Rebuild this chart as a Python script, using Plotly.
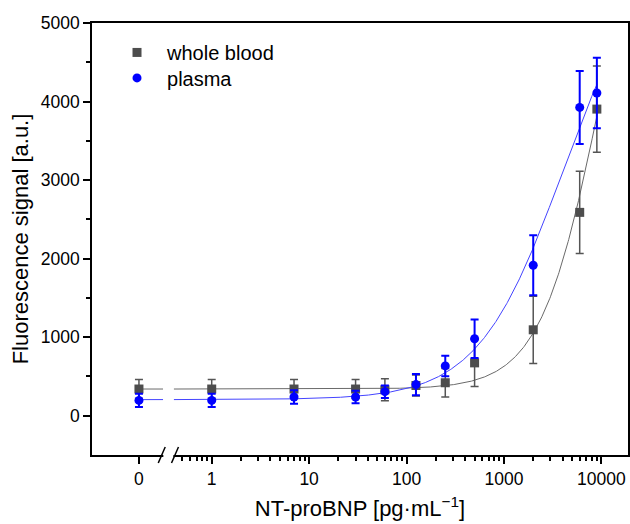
import numpy as np
import plotly.graph_objects as go

# ---- data ----
conc = [0, 1, 7, 30, 60, 125, 250, 500, 2000, 6000, 9000]
wb_mean = [340, 340, 340, 340, 330, 385, 420, 673, 1094, 2589, 3904]
wb_err = [120, 120, 120, 120, 140, 135, 180, 300, 428, 525, 550]
pl_mean = [195, 195, 238, 238, 306, 396, 634, 980, 1916, 3925, 4109]
pl_err = [85, 85, 85, 80, 80, 135, 130, 245, 383, 465, 450]

# 4PL fit parameters (bottom, top, EC50, hill)
wb_fit = dict(bottom=340, top=7840, c=10000, b=1.4)
pl_fit = dict(bottom=205, top=6000, c=4000, b=1.0)

x_tick_labels = ["0", "1", "10", "100", "1000", "10000"]
x_tick_vals = [None, 1, 10, 100, 1000, 10000]
y_tick_vals = [0, 1000, 2000, 3000, 4000, 5000]
y_minor_vals = [500, 1500, 2500, 3500, 4500]

# ---- axis geometry ----
ZERO_LOG = -0.747           # display position of concentration 0 (log10)
XRANGE = [-1.229, 4.274]
BREAK_LO, BREAK_HI = -0.513, -0.377   # axis break slashes (log10 units)
ZERO_POS = 10 ** ZERO_LOG

def to_plot(c):
    return [ZERO_POS if v == 0 else v for v in c]

def fpl(x, p):
    x = np.asarray(x, dtype=float)
    r = (x / p["c"]) ** p["b"]
    return p["bottom"] + (p["top"] - p["bottom"]) * r / (1 + r)

def curve(p):
    lx = np.linspace(ZERO_LOG, np.log10(9000), 800)
    xs, ys = [], []
    for l in lx:
        if BREAK_LO + 0.015 < l < BREAK_HI - 0.015:
            if xs and xs[-1] is not None:
                xs.append(None); ys.append(None)
            continue
        xv = 10 ** l
        xs.append(xv)
        ys.append(float(fpl(0 if l < BREAK_LO else xv, p)))
    return xs, ys

GRAY = "#4d4d4d"
BLUE = "#0000ff"

fig = go.Figure()
cx, cy = curve(wb_fit)
fig.add_trace(go.Scatter(x=cx, y=cy, mode="lines", line=dict(color="#6a6a6a", width=1),
                         showlegend=False, hoverinfo="skip"))
cx, cy = curve(pl_fit)
fig.add_trace(go.Scatter(x=cx, y=cy, mode="lines", line=dict(color="#4444ff", width=1),
                         showlegend=False, hoverinfo="skip"))
fig.add_trace(go.Scatter(
    x=to_plot(conc), y=wb_mean, mode="markers", name="whole blood", legend="legend",
    marker=dict(symbol="square", size=9, color=GRAY),
    error_y=dict(type="data", array=wb_err, color="#555555", thickness=1.5, width=4)))
fig.add_trace(go.Scatter(
    x=to_plot(conc), y=pl_mean, mode="markers", name="plasma", legend="legend2",
    marker=dict(symbol="circle", size=9, color=BLUE),
    error_y=dict(type="data", array=pl_err, color=BLUE, thickness=2, width=4)))

minor_vals = []
for m in range(5, 10):
    minor_vals.append(m / 10)
for dec in [1, 10, 100, 1000]:
    for m in range(2, 10):
        minor_vals.append(m * dec)

tv = [ZERO_POS if v is None else v for v in x_tick_vals]
FONT = "Arial, Liberation Sans, sans-serif"
leg_common = dict(x=0.028, xanchor="left", yanchor="top",
                  bgcolor="rgba(0,0,0,0)", font=dict(size=20, family=FONT),
                  itemwidth=50)

fig.update_layout(
    width=630, height=524,
    margin=dict(l=92, r=2, t=23, b=69),
    paper_bgcolor="white", plot_bgcolor="white",
    font=dict(family=FONT, color="black", size=17),
    showlegend=True,
    legend=dict(y=0.977, **leg_common),
    legend2=dict(y=0.918, **leg_common),
    xaxis=dict(type="log", range=XRANGE, showgrid=False, zeroline=False,
               automargin=False,
               showline=True, linecolor="black", linewidth=1.5, mirror=True,
               ticks="outside", ticklen=7, tickwidth=1.5, tickcolor="black",
               tickvals=tv, ticktext=x_tick_labels,
               tickfont=dict(size=17.5),
               minor=dict(tickvals=minor_vals, ticks="outside", ticklen=4,
                          tickwidth=1.5, tickcolor="black"),
               title=dict(text="NT-proBNP [pg·mL<sup>−1</sup>]",
                          font=dict(size=22), standoff=13)),
    yaxis=dict(range=[-500, 5000], showgrid=False, zeroline=False,
               automargin=False,
               showline=True, linecolor="black", linewidth=1.5, mirror=True,
               ticks="outside", ticklen=7, tickwidth=1.5, tickcolor="black",
               tickvals=y_tick_vals, tickfont=dict(size=17.5),
               minor=dict(tickvals=y_minor_vals, ticks="outside", ticklen=4,
                          tickwidth=1.5, tickcolor="black"),
               title=dict(text="Fluorescence signal [a.u.]",
                          font=dict(size=22), standoff=6)),
)

# axis break marks "//"
def px(l):
    return (l - XRANGE[0]) / (XRANGE[1] - XRANGE[0])

b0, b1 = px(BREAK_LO), px(BREAK_HI)
fig.add_shape(type="rect", xref="paper", yref="paper", x0=b0 + 0.003, x1=b1 - 0.003,
              y0=-0.008, y1=0.008, fillcolor="white", line=dict(width=0), layer="above")
for xb in (b0, b1):
    fig.add_shape(type="line", xref="paper", yref="paper",
                  x0=xb - 0.0065, x1=xb + 0.0065, y0=-0.0185, y1=0.0185,
                  line=dict(color="black", width=1.5), layer="above")

fig.write_html("out.html", config={"displayModeBar": False},
               post_script="document.body.style.margin='0';document.body.style.padding='0';")
